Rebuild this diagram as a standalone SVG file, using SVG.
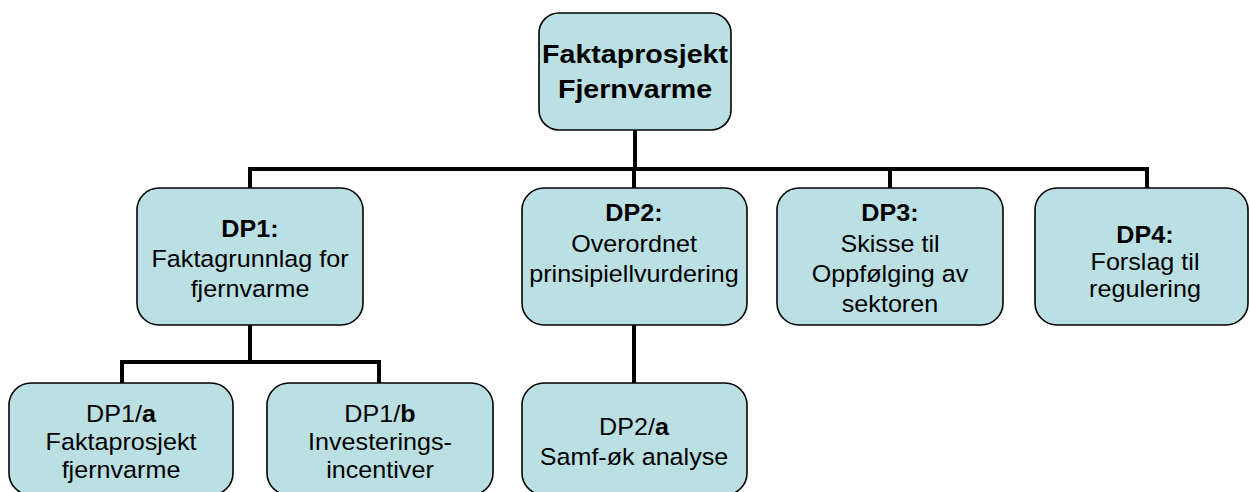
<svg xmlns="http://www.w3.org/2000/svg" width="1250" height="492" viewBox="0 0 1250 492">
<style>
.box{fill:#BBE0E3;stroke:#000;stroke-width:1.6}
.t{font-family:"Liberation Sans",Arial,sans-serif;font-size:23.5px;fill:#000;text-anchor:middle}
.tt{font-family:"Liberation Sans",Arial,sans-serif;font-size:26px;font-weight:bold;fill:#000;text-anchor:middle}
.b{font-weight:bold}
.conn{stroke:#000;stroke-width:4;fill:none}
</style>
<rect width="1250" height="492" fill="#fff"/>
<g id="connectors">
<path class="conn" d="M635 130V169M250 169H1147M250 167V188M634 167V188M890 167V188M1147 167V188"/>
<path class="conn" d="M250 325V362M122 362H379M122 360V383M379 360V383"/>
<path class="conn" d="M634 325V383"/>
</g>
<g id="root">
<rect class="box" x="539" y="13" width="192" height="117" rx="20"/>
<text class="tt" transform="matrix(1.1 0 0 1 635 0)"><tspan x="0" y="63">Faktaprosjekt</tspan><tspan x="0" y="98">Fjernvarme</tspan></text>
</g>
<g id="dp1">
<rect class="box" x="137" y="188" width="226" height="137" rx="22"/>
<text class="t" transform="matrix(1.07 0 0 1 250 0)"><tspan x="0" y="237" class="b">DP1:</tspan><tspan x="0" y="267">Faktagrunnlag for</tspan><tspan x="0" y="297">fjernvarme</tspan></text>
</g>
<g id="dp2">
<rect class="box" x="522" y="188" width="225" height="137" rx="22"/>
<text class="t" transform="matrix(1.07 0 0 1 634 0)"><tspan x="0" y="221" class="b">DP2:</tspan><tspan x="0" y="252">Overordnet</tspan><tspan x="0" y="282">prinsipiellvurdering</tspan></text>
</g>
<g id="dp3">
<rect class="box" x="777" y="188" width="226" height="137" rx="22"/>
<text class="t" transform="matrix(1.07 0 0 1 890 0)"><tspan x="0" y="221" class="b">DP3:</tspan><tspan x="0" y="252">Skisse til</tspan><tspan x="0" y="282">Oppfølging av</tspan><tspan x="0" y="312">sektoren</tspan></text>
</g>
<g id="dp4">
<rect class="box" x="1035" y="188" width="213" height="137" rx="22"/>
<text class="t" transform="matrix(1.07 0 0 1 1145 0)"><tspan x="0" y="243" class="b">DP4:</tspan><tspan x="0" y="270">Forslag til</tspan><tspan x="0" y="297">regulering</tspan></text>
</g>
<g id="dp1a">
<rect class="box" x="9" y="383" width="224" height="112" rx="22"/>
<text class="t" transform="matrix(1.07 0 0 1 121 0)"><tspan x="0" y="422">DP1/<tspan class="b">a</tspan></tspan><tspan x="0" y="450">Faktaprosjekt</tspan><tspan x="0" y="478">fjernvarme</tspan></text>
</g>
<g id="dp1b">
<rect class="box" x="267" y="383" width="226" height="112" rx="22"/>
<text class="t" transform="matrix(1.07 0 0 1 380 0)"><tspan x="0" y="422">DP1/<tspan class="b">b</tspan></tspan><tspan x="0" y="450">Investerings-</tspan><tspan x="0" y="478">incentiver</tspan></text>
</g>
<g id="dp2a">
<rect class="box" x="522" y="383" width="225" height="112" rx="22"/>
<text class="t" transform="matrix(1.07 0 0 1 634 0)"><tspan x="0" y="435">DP2/<tspan class="b">a</tspan></tspan><tspan x="0" y="465">Samf-øk analyse</tspan></text>
</g>
</svg>
